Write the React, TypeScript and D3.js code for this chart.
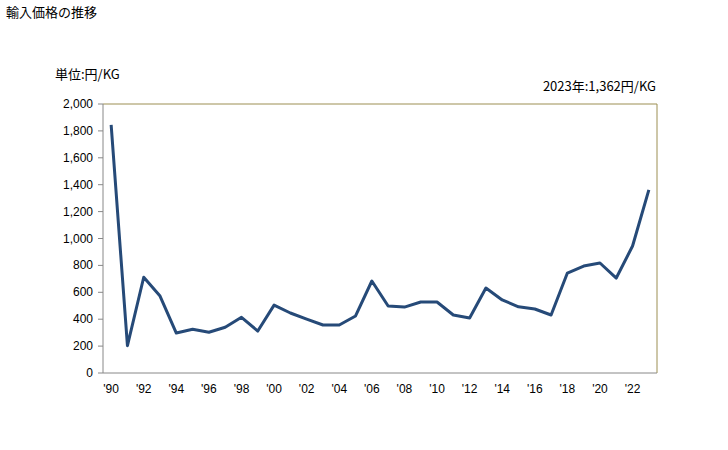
import React from "react";
import * as d3 from "d3";

const years: number[] = d3.range(1990, 2024);
const values: number[] = [
  1845, 203, 712, 572, 297, 325, 303, 340, 414, 312, 505, 446, 400, 357, 357, 424,
  684, 498, 490, 528, 528, 431, 409, 632, 543, 492, 476, 431, 743, 795, 818, 706,
  944, 1362,
];
const yTicks: number[] = d3.range(0, 2001, 200);
const xTickYears: number[] = d3.range(1990, 2023, 2);
const title = "輸入価格の推移";
const unitLabel = "単位:円/KG";
const annotation = "2023年:1,362円/KG";

export default function App() {
  const W = 728, H = 450;
  const m = { left: 103, right: 657, top: 104, bottom: 373 };
  const x = d3.scaleBand<number>().domain(years).range([m.left, m.right]);
  const y = d3.scaleLinear().domain([0, 2000]).range([m.bottom, m.top]);
  const cx = (yr: number) => (x(yr) as number) + x.bandwidth() / 2;
  const line = d3
    .line<number>()
    .x((_, i) => cx(years[i]))
    .y((d) => y(d));
  const fmt = d3.format(",");
  const font = "'Liberation Sans', Arial, sans-serif";
  const jp = "'Noto Sans CJK JP', sans-serif";
  return (
    <svg width={W} height={H} style={{ position: "absolute", left: 0, top: 0, background: "#fff" }}>
      <text x={6} y={17} fontSize={13} fontFamily={jp} fill="#000">{title}</text>
      <text x={55} y={79} fontSize={13} fontFamily={jp} fill="#000">{unitLabel}</text>
      <text x={656} y={91} fontSize={13} fontFamily={jp} textAnchor="end" fill="#000">{annotation}</text>
      {/* frame */}
      <line x1={m.left} x2={m.right} y1={m.top} y2={m.top} stroke="#9c8f52" strokeWidth={1} />
      <line x1={m.right} x2={m.right} y1={m.top} y2={m.bottom} stroke="#9c8f52" strokeWidth={1} />
      <line x1={m.left} x2={m.left} y1={m.top} y2={m.bottom} stroke="#888" strokeWidth={1} />
      <line x1={m.left} x2={m.right} y1={m.bottom} y2={m.bottom} stroke="#888" strokeWidth={1} />
      {yTicks.map((t) => (
        <g key={t}>
          <line x1={m.left - 5} x2={m.left} y1={y(t)} y2={y(t)} stroke="#888" />
          <text x={93} y={y(t) + 4} fontSize={12} fontFamily={font} textAnchor="end" fill="#000">
            {fmt(t)}
          </text>
        </g>
      ))}
      {xTickYears.map((yr) => (
        <text key={yr} x={cx(yr)} y={393} fontSize={12} fontFamily={font} textAnchor="middle" fill="#000">
          {"'" + String(yr).slice(2)}
        </text>
      ))}
      <path d={line(values) || ""} fill="none" stroke="#264a78" strokeWidth={3} strokeLinejoin="round" />
    </svg>
  );
}
